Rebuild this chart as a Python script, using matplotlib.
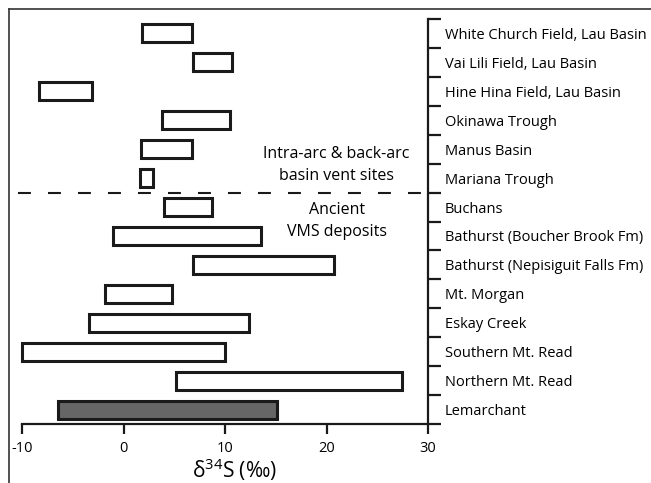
import matplotlib
matplotlib.use("Agg")
import matplotlib.pyplot as plt
from matplotlib.lines import Line2D

plt.rcParams['font.family'] = ['Open Sans', 'DejaVu Sans']
plt.rcParams['mathtext.fontset'] = 'custom'
plt.rcParams['mathtext.rm'] = 'Open Sans'

# sulfur isotope ranges, top to bottom
sites = ["White Church Field, Lau Basin", "Vai Lili Field, Lau Basin",
         "Hine Hina Field, Lau Basin", "Okinawa Trough", "Manus Basin",
         "Mariana Trough", "Buchans", "Bathurst (Boucher Brook Fm)",
         "Bathurst (Nepisiguit Falls Fm)", "Mt. Morgan", "Eskay Creek",
         "Southern Mt. Read", "Northern Mt. Read", "Lemarchant"]
d34s_min = [1.8, 6.8, -8.3, 3.8, 1.7, 1.6, 4.0, -1.0, 6.8, -1.8, -3.4, -10.0, 5.2, -6.5]
d34s_max = [6.7, 10.7, -3.1, 10.5, 6.7, 2.9, 8.7, 13.5, 20.7, 4.8, 12.4, 10.0, 27.4, 15.1]
xticks = [-10, 0, 10, 20, 30]

n = len(sites)
ypos = [n - 1 - i for i in range(n)]

fig = plt.figure(figsize=(6.51, 4.83), dpi=100)
W, H = 651.0, 483.0
ax = fig.add_axes([22 / W, 1 - 424 / H, (428 - 22) / W, (424 - 19) / H])

for i in range(n):
    face = '#666666' if sites[i] == "Lemarchant" else 'white'
    ax.barh(ypos[i], d34s_max[i] - d34s_min[i], left=d34s_min[i], height=0.62,
            color=face, edgecolor='#1a1a1a', linewidth=2.2, clip_on=False)

ax.set_xlim(-10, 30)
ax.set_ylim(-0.5, n - 0.5)

for s in ['top', 'left']:
    ax.spines[s].set_visible(False)
for s in ['bottom', 'right']:
    ax.spines[s].set_linewidth(1.6)
    ax.spines[s].set_color('#1a1a1a')

ax.set_xticks(xticks)
ax.set_xticklabels([str(v) for v in xticks], fontsize=10.5)
ax.tick_params(axis='x', direction='out', length=7.5, width=1.6, pad=5, color='#1a1a1a')

ax.yaxis.tick_right()
ax.set_yticks([k - 0.5 for k in range(n + 1)])
ax.set_yticklabels([])
ax.set_yticks(ypos, minor=True)
ax.set_yticklabels(sites, minor=True, fontsize=10.5)
ax.tick_params(axis='y', which='major', direction='out', length=9, width=1.6, color='#1a1a1a')
ax.tick_params(axis='y', which='minor', length=0, pad=12)
ax.tick_params(axis='y', which='minor', left=False, labelleft=False)

ax.set_xlabel(r'δ$^{34}$S (‰)', fontsize=15, labelpad=0)
ax.xaxis.label.set_x(0.523)

# divider between modern vent sites and ancient deposits
ax.axhline(n - 6.5, xmin=-0.01, xmax=1, color='#1a1a1a', linewidth=1.5,
           dashes=(6.2, 8.2), clip_on=False)
ax.text(21.0, n - 5.55, "Intra-arc & back-arc\nbasin vent sites", ha='center',
        va='center', fontsize=11.5, linespacing=1.45)
ax.text(21.0, n - 7.5, "Ancient\nVMS deposits", ha='center',
        va='center', fontsize=11.5, linespacing=1.5)

# outer frame
fig.add_artist(Line2D([9 / W, 9 / W], [0, 1 - 9 / H], transform=fig.transFigure,
                      color='#333333', linewidth=1.2))
fig.add_artist(Line2D([9 / W, 1], [1 - 9 / H, 1 - 9 / H], transform=fig.transFigure,
                      color='#333333', linewidth=1.2))

fig.savefig('out.png', dpi=100)
